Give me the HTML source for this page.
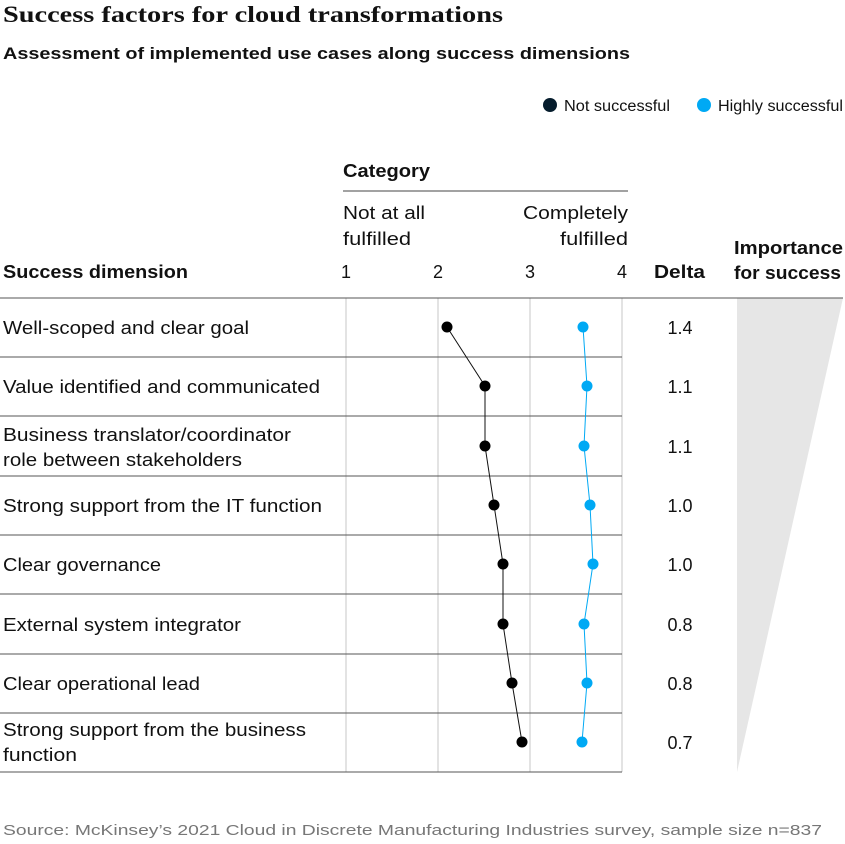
<!DOCTYPE html>
<html><head><style>
body{margin:0;background:#fff;}
svg text{font-family:"Liberation Sans",sans-serif;fill:#111;}
</style></head><body>
<svg width="845" height="839" viewBox="0 0 845 839" xmlns="http://www.w3.org/2000/svg">
<text x="3" y="22" textLength="500" lengthAdjust="spacingAndGlyphs" style="font-family:'Liberation Serif',serif;font-size:23px;font-weight:bold">Success factors for cloud transformations</text>
<text x="3" y="59" font-size="17" font-weight="bold" textLength="627" lengthAdjust="spacingAndGlyphs">Assessment of implemented use cases along success dimensions</text>
<circle cx="550" cy="105" r="7" fill="#051c2c"/>
<text x="564" y="111" font-size="15.5" textLength="106" lengthAdjust="spacingAndGlyphs">Not successful</text>
<circle cx="704" cy="105" r="7" fill="#00a9f4"/>
<text x="718" y="111" font-size="15.5" textLength="125" lengthAdjust="spacingAndGlyphs">Highly successful</text>
<text x="343" y="177" font-size="18" font-weight="bold" textLength="87" lengthAdjust="spacingAndGlyphs">Category</text>
<line x1="343" y1="191" x2="628" y2="191" stroke="#444" stroke-width="1"/>
<text x="343" y="219" font-size="18" textLength="82" lengthAdjust="spacingAndGlyphs">Not at all</text>
<text x="343" y="245" font-size="18" textLength="68" lengthAdjust="spacingAndGlyphs">fulfilled</text>
<text x="523" y="219" font-size="18" textLength="105" lengthAdjust="spacingAndGlyphs">Completely</text>
<text x="560" y="245" font-size="18" textLength="68" lengthAdjust="spacingAndGlyphs">fulfilled</text>
<text x="346" y="278" font-size="18" text-anchor="middle">1</text>
<text x="438" y="278" font-size="18" text-anchor="middle">2</text>
<text x="530" y="278" font-size="18" text-anchor="middle">3</text>
<text x="622" y="278" font-size="18" text-anchor="middle">4</text>
<text x="3" y="278" font-size="18" font-weight="bold" textLength="185" lengthAdjust="spacingAndGlyphs">Success dimension</text>
<text x="654" y="278" font-size="18" font-weight="bold" textLength="51" lengthAdjust="spacingAndGlyphs">Delta</text>
<text x="734" y="254" font-size="18" font-weight="bold" textLength="109" lengthAdjust="spacingAndGlyphs">Importance</text>
<text x="734" y="279" font-size="18" font-weight="bold" textLength="107" lengthAdjust="spacingAndGlyphs">for success</text>
<polygon points="737,298 843,298 737,772" fill="#e6e6e6"/>
<g stroke="#e3e3e3" stroke-width="2">
<line x1="346" y1="298" x2="346" y2="772"/><line x1="438" y1="298" x2="438" y2="772"/>
<line x1="530" y1="298" x2="530" y2="772"/><line x1="622" y1="298" x2="622" y2="772"/>
</g>
<line x1="0" y1="298" x2="843" y2="298" stroke="#555"/>
<g stroke="#555">
<line x1="0" y1="357" x2="622" y2="357"/><line x1="0" y1="416" x2="622" y2="416"/>
<line x1="0" y1="476" x2="622" y2="476"/><line x1="0" y1="535" x2="622" y2="535"/>
<line x1="0" y1="594" x2="622" y2="594"/><line x1="0" y1="654" x2="622" y2="654"/>
<line x1="0" y1="713" x2="622" y2="713"/><line x1="0" y1="772" x2="622" y2="772"/>
</g>
<g font-size="18">
<text x="3" y="334" textLength="246" lengthAdjust="spacingAndGlyphs">Well-scoped and clear goal</text>
<text x="3" y="393" textLength="317" lengthAdjust="spacingAndGlyphs">Value identified and communicated</text>
<text x="3" y="441" textLength="288" lengthAdjust="spacingAndGlyphs">Business translator/coordinator</text>
<text x="3" y="466" textLength="239" lengthAdjust="spacingAndGlyphs">role between stakeholders</text>
<text x="3" y="512" textLength="319" lengthAdjust="spacingAndGlyphs">Strong support from the IT function</text>
<text x="3" y="571" textLength="158" lengthAdjust="spacingAndGlyphs">Clear governance</text>
<text x="3" y="631" textLength="238" lengthAdjust="spacingAndGlyphs">External system integrator</text>
<text x="3" y="690" textLength="197" lengthAdjust="spacingAndGlyphs">Clear operational lead</text>
<text x="3" y="736" textLength="303" lengthAdjust="spacingAndGlyphs">Strong support from the business</text>
<text x="3" y="761" textLength="74" lengthAdjust="spacingAndGlyphs">function</text>
</g>
<g font-size="18" text-anchor="middle">
<text x="680" y="334">1.4</text><text x="680" y="393">1.1</text><text x="680" y="453">1.1</text>
<text x="680" y="512">1.0</text><text x="680" y="571">1.0</text><text x="680" y="631">0.8</text>
<text x="680" y="690">0.8</text><text x="680" y="749">0.7</text>
</g>
<polyline points="447,327 485,386 485,446 494,505 503,564 503,624 512,683 522,742" fill="none" stroke="#111" stroke-width="1"/>
<polyline points="583,327 587,386 584,446 590,505 593,564 584,624 587,683 582,742" fill="none" stroke="#00a9f4" stroke-width="1"/>
<g fill="#000">
<circle cx="447" cy="327" r="5.5"/><circle cx="485" cy="386" r="5.5"/><circle cx="485" cy="446" r="5.5"/>
<circle cx="494" cy="505" r="5.5"/><circle cx="503" cy="564" r="5.5"/><circle cx="503" cy="624" r="5.5"/>
<circle cx="512" cy="683" r="5.5"/><circle cx="522" cy="742" r="5.5"/>
</g>
<g fill="#00a9f4">
<circle cx="583" cy="327" r="5.5"/><circle cx="587" cy="386" r="5.5"/><circle cx="584" cy="446" r="5.5"/>
<circle cx="590" cy="505" r="5.5"/><circle cx="593" cy="564" r="5.5"/><circle cx="584" cy="624" r="5.5"/>
<circle cx="587" cy="683" r="5.5"/><circle cx="582" cy="742" r="5.5"/>
</g>
<text x="3" y="835" font-size="14.5" textLength="819" lengthAdjust="spacingAndGlyphs" style="fill:#777">Source: McKinsey’s 2021 Cloud in Discrete Manufacturing Industries survey, sample size n=837</text>
</svg>
</body></html>
